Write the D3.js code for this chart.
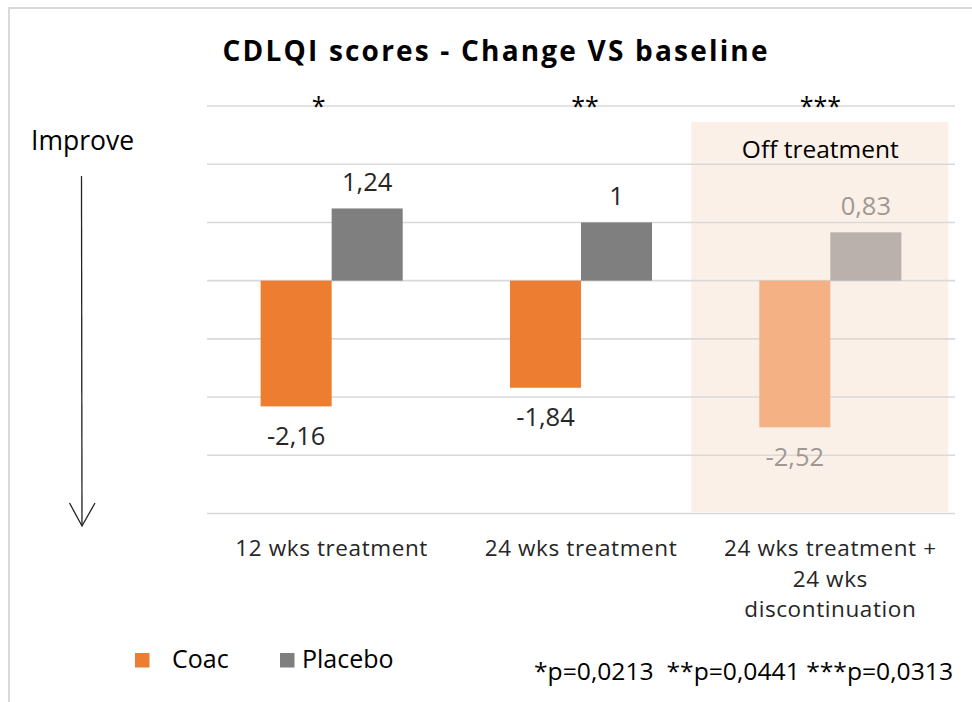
<!DOCTYPE html>
<html>
<head>
<meta charset="utf-8">
<script src="https://cdn.jsdelivr.net/npm/d3@7"></script>
<style>
  html, body { margin: 0; padding: 0; background: #fff; }
  svg { display: block; font-family: "Open Sans", "Noto Sans", sans-serif; }
</style>
</head>
<body>
<svg id="chart" width="972" height="702"></svg>
<script>
// Categories, series and values
const categories = ["12 wks treatment", "24 wks treatment", "24 wks treatment + 24 wks discontinuation"];
const categoryLines = [["12 wks treatment"], ["24 wks treatment"], ["24 wks treatment +", "24 wks", "discontinuation"]];
const series = ["Coac", "Placebo"];
const coacValues = [-2.16, -1.84, -2.52];
const placeboValues = [1.24, 1, 0.83];
const valueLabels = { Coac: ["-2,16", "-1,84", "-2,52"], Placebo: ["1,24", "1", "0,83"] };
const significance = ["*", "**", "***"];
const gridTicks = [3, 2, 1, 0, -1, -2, -3, -4];
const footnote = "*p=0,0213  **p=0,0441 ***p=0,0313";
const offTreatmentIndex = 2;

const colors = { Coac: "#ED7D31", Placebo: "#7F7F7F" };
const offColors = { Coac: "#F4B183", Placebo: "#BAB0AC" };

const svg = d3.select("#chart");

// Outer frame
svg.append("path")
  .attr("d", "M9,702 L9,8 L972,8")
  .attr("fill", "none").attr("stroke", "#d9d9d9").attr("stroke-width", 2);

const y = d3.scaleLinear().domain([-4, 3]).range([513.5, 106]);
const x0 = d3.scaleBand().domain(categories).range([207, 955]).paddingInner(0).paddingOuter(0);
const x1 = d3.scaleBand().domain(series).range([0, x0.bandwidth()]).paddingInner(0).paddingOuter(0.755);

// Off-treatment shaded panel
const offCat = categories[offTreatmentIndex];
const offCx = x0(offCat) + x0.bandwidth() / 2;
svg.append("rect")
  .attr("x", offCx - 139).attr("y", 122)
  .attr("width", 257).attr("height", 390)
  .attr("fill", "#FBF0E8");
svg.append("text")
  .attr("x", offCx - 10).attr("y", 158)
  .attr("text-anchor", "middle")
  .attr("font-size", 24.5).attr("fill", "#000")
  .text("Off treatment");

// Horizontal gridlines
svg.append("g").selectAll("line").data(gridTicks).join("line")
  .attr("x1", 207).attr("x2", 955)
  .attr("y1", d => y(d)).attr("y2", d => y(d))
  .attr("stroke", "#d9d9d9").attr("stroke-width", 1.6);

// Bars
const rows = categories.map((c, i) => ({
  cat: c, i,
  vals: [{ s: "Coac", v: coacValues[i] }, { s: "Placebo", v: placeboValues[i] }]
}));

const groups = svg.append("g").selectAll("g").data(rows).join("g")
  .attr("transform", d => `translate(${x0(d.cat)},0)`);

groups.selectAll("rect").data(d => d.vals.map(v => ({ ...v, i: d.i }))).join("rect")
  .attr("x", d => x1(d.s))
  .attr("width", x1.bandwidth())
  .attr("y", d => y(Math.max(0, d.v)))
  .attr("height", d => Math.abs(y(d.v) - y(0)))
  .attr("fill", d => d.i === offTreatmentIndex ? offColors[d.s] : colors[d.s]);

// Value labels
groups.selectAll("text.val").data(d => d.vals.map(v => ({ ...v, i: d.i }))).join("text")
  .attr("class", "val")
  .attr("x", d => x1(d.s) + x1.bandwidth() / 2)
  .attr("y", d => d.v >= 0 ? y(d.v) - 17.5 : y(d.v) + 38.5)
  .attr("text-anchor", "middle")
  .attr("font-size", 25.5)
  .attr("fill", d => d.i === offTreatmentIndex ? "#9F9895" : "#262626")
  .text(d => valueLabels[d.s][d.i]);

// Significance stars
svg.append("g").selectAll("text").data(categories).join("text")
  .attr("x", (c, i) => x0(c) + x0.bandwidth() / 2 + [-13, 4, -10][i])
  .attr("y", 115)
  .attr("text-anchor", "middle")
  .attr("font-size", 25).attr("fill", "#000")
  .text((c, i) => significance[i]);

// Category labels, one text per line
const catG = svg.append("g").selectAll("g").data(categories).join("g");
catG.selectAll("text").data((c, i) => categoryLines[i].map(t => ({ t, c }))).join("text")
  .attr("x", d => x0(d.c) + x0.bandwidth() / 2)
  .attr("y", (d, j) => 556 + j * 30.5)
  .attr("text-anchor", "middle")
  .attr("font-size", 22.5).attr("letter-spacing", 0.6).attr("fill", "#262626")
  .text(d => d.t);

// Title
svg.append("text")
  .attr("x", 495).attr("y", 61)
  .attr("text-anchor", "middle")
  .attr("font-size", 28).attr("font-weight", "bold").attr("fill", "#000")
  .attr("textLength", 545).attr("lengthAdjust", "spacing")
  .text("CDLQI scores - Change VS baseline");

// "Improve" arrow
svg.append("text")
  .attr("x", 31).attr("y", 150)
  .attr("font-size", 26.5).attr("fill", "#000")
  .text("Improve");
svg.append("line")
  .attr("x1", 81.5).attr("y1", 176).attr("x2", 82).attr("y2", 526)
  .attr("stroke", "#222").attr("stroke-width", 1.3);
svg.append("path")
  .attr("d", "M69.5,503 L82,526 L95,503")
  .attr("fill", "none").attr("stroke", "#222").attr("stroke-width", 1.3);

// Legend
const legend = svg.append("g").selectAll("g").data(series).join("g")
  .attr("transform", (s, i) => `translate(${[135, 280][i]},653)`);
legend.append("rect").attr("width", 14.5).attr("height", 14.5)
  .attr("fill", s => colors[s]);
legend.append("text")
  .attr("x", (s, i) => [37, 22][i]).attr("y", 15)
  .attr("font-size", 25).attr("fill", "#000")
  .text(s => s);

// Footnote with p-values
svg.append("text")
  .attr("x", 953).attr("y", 680)
  .attr("text-anchor", "end")
  .attr("font-size", 24).attr("fill", "#000")
  .attr("xml:space", "preserve")
  .style("white-space", "pre")
  .attr("textLength", 419).attr("lengthAdjust", "spacingAndGlyphs")
  .text(footnote);
</script>
</body>
</html>
